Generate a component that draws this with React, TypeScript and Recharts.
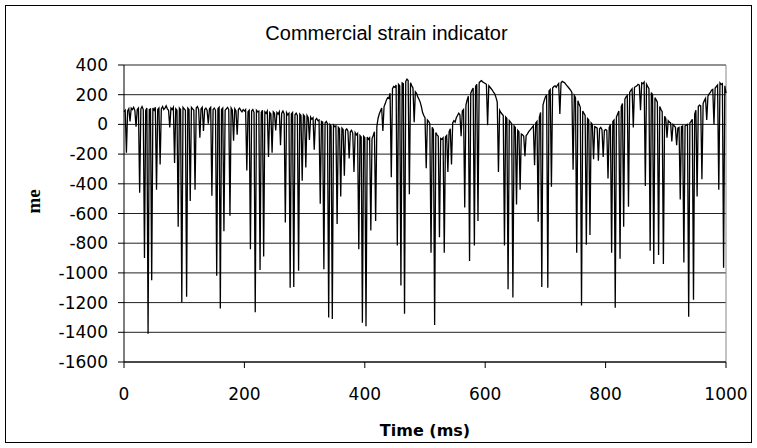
import { LineChart, Line, XAxis, YAxis, CartesianGrid, ReferenceLine } from 'recharts';

// strain readings, one every 2 ms in 100 ms blocks
const SAMPLE_MS = 2;

const strain000 = [85, 95, -190, 90, 105, 20, 110, 100, 115, 95, -15, 100, 110, -460, 105, 120, 100, -900, 95, 110, -1410, 100, 105, -1050, 110, 95, 115, -440, 100, 110, -270, 105, 120, 100, 110, 125, 105, 95, -20, 110, 100, 115, -260, 105, 95, -690, 110, 100, -1200, 115];
const strain100 = [105, 95, -1160, 110, 100, -515, 115, 105, 95, -440, 110, 120, 100, -90, 105, 115, -45, 100, 110, 95, 5, 105, 115, -480, 100, 110, 95, -1020, 105, 115, -1240, 100, 110, -720, 95, 105, 115, 100, -615, 110, 95, -110, 105, 90, -70, 100, 110, 95, 85, 100];
const strain200 = [90, 100, -310, 85, 95, -840, 90, 100, 80, -1265, 95, 85, 90, -980, 80, 95, -890, 85, 75, 90, -220, 80, 70, -190, 85, 75, -40, 80, 70, 85, -140, 75, 90, 70, -660, 80, 65, 75, -1100, 70, 80, -1095, 65, 75, 60, -985, 70, 60, -380, 65];
const strain300 = [55, -290, 60, 45, -105, 50, 35, 45, -170, 30, 40, 25, 30, -535, 20, 15, -975, 10, 20, 5, -1300, 0, -10, -1310, -5, -15, -10, -670, -20, -30, -485, -25, -35, -345, -40, -30, -45, -230, -50, -40, -60, -320, -55, -70, -60, -840, -75, -85, -1335, -80];
const strain400 = [-90, -1360, -85, -100, -90, -715, -95, -75, -50, -650, -15, 40, 70, 90, 110, -45, 120, 140, 165, 180, 175, 210, -355, 240, 255, 250, 265, -815, 270, 260, -1085, 280, 275, -1275, 290, 305, 295, -470, 280, 260, 245, 15, 220, 210, 185, 170, 150, 120, 80, 60];
const strain500 = [45, -295, 30, 20, 5, -865, -20, -35, -1350, -55, -70, -80, -760, -95, -100, -90, -865, -85, -75, -320, -50, -30, -270, 10, 25, 15, 45, 60, 75, 65, -80, 90, 100, -560, 130, 165, 190, -920, 210, 230, 245, -815, 255, 270, -650, 280, 290, 295, 285, 280];
const strain600 = [275, 270, -5, 260, 250, 240, 230, 215, 205, 180, 150, -320, 95, 80, 70, 60, -815, 50, 40, -1110, 25, 15, 5, -1165, -10, -20, -540, -40, -50, -440, -65, -70, -80, -215, -75, -65, -50, -40, -30, -20, -10, -275, 10, 20, -655, 50, 80, -1095, 130, 160];
const strain700 = [185, 200, -1100, 225, 235, -420, 245, 255, 260, 250, 265, 275, 70, 280, 290, 285, 280, 270, 260, 250, 240, 230, 215, -305, 195, 180, -865, 160, 135, 115, -1220, 90, 75, 60, -810, 40, 30, -745, 10, 0, -235, -15, -20, -25, -245, -30, -20, -35, -220, -40];
const strain800 = [-35, -40, -365, -20, 0, -865, 20, 30, -1235, 50, 70, 90, -905, 120, 140, -690, 170, 185, 195, -555, 215, 230, 240, -20, 250, 255, 260, 270, 265, 95, 280, 275, 285, -415, 270, 255, 240, -850, 215, 200, -940, 180, 165, 150, -880, 120, 100, 85, -940, 55];
const strain900 = [40, -90, 25, 15, 10, -115, 0, -10, -20, -140, -25, -20, -505, -15, -10, -930, -10, -5, 0, -1295, 10, 20, 35, -1180, 70, 95, -485, 120, 130, 125, -370, 140, 160, 175, 30, 190, 205, 215, 230, 235, 0, 245, 255, 265, -440, 280, 270, 275, -965, 260, 210];

const strainValues = [
  ...strain000, ...strain100, ...strain200, ...strain300, ...strain400,
  ...strain500, ...strain600, ...strain700, ...strain800, ...strain900,
];

const timeTicks = [0, 200, 400, 600, 800, 1000];
const strainTicks = [400, 200, 0, -200, -400, -600, -800, -1000, -1200, -1400, -1600];

const data = strainValues.map((v, i) => ({ time: i * SAMPLE_MS, strain: v }));

const tickFont = { fontFamily: 'DejaVu Sans', fontSize: 17, fill: '#000' };

export default function App() {
  return (
    <div style={{ position: 'absolute', left: 0, top: 0, width: 757, height: 448, background: '#fff' }}>
      <div
        style={{
          position: 'absolute', left: 5, top: 5, width: 747, height: 438,
          border: '1px solid #000', boxSizing: 'border-box',
        }}
      />
      <div
        style={{
          position: 'absolute', left: 0, width: 773, top: 21, textAlign: 'center',
          fontFamily: 'Liberation Sans', fontSize: 20, lineHeight: '24px', color: '#000',
        }}
      >
        Commercial strain indicator
      </div>
      <LineChart
        width={757}
        height={448}
        data={data}
        margin={{ top: 65, right: 31, bottom: 0, left: 0 }}
        style={{ position: 'absolute', left: 0, top: 0 }}
      >
        <CartesianGrid vertical={false} stroke="#222" strokeWidth={1} />
        <XAxis
          dataKey="time"
          type="number"
          domain={[0, 1000]}
          ticks={timeTicks}
          height={86}
          tickSize={6}
          tickMargin={20}
          tick={tickFont}
          axisLine={{ stroke: '#000' }}
          tickLine={{ stroke: '#000' }}
          label={{
            value: 'Time (ms)', position: 'insideBottom', offset: 12,
            style: { fontFamily: 'DejaVu Sans', fontSize: 16, fontWeight: 'bold', fill: '#000' },
          }}
        />
        <YAxis
          type="number"
          domain={[-1600, 400]}
          ticks={strainTicks}
          interval={0}
          width={124}
          tickSize={6}
          tickMargin={10}
          tick={tickFont}
          axisLine={{ stroke: '#000' }}
          tickLine={{ stroke: '#000' }}
          label={{
            value: 'me', angle: -90, position: 'insideLeft', offset: 33,
            style: { fontFamily: 'Liberation Serif', fontSize: 19, fontWeight: 'bold', fill: '#000' },
          }}
        />
        <ReferenceLine x={1000} stroke="#888" />
        <Line
          type="linear"
          dataKey="strain"
          stroke="#000"
          strokeWidth={1.3}
          dot={false}
          isAnimationActive={false}
        />
      </LineChart>
    </div>
  );
}
